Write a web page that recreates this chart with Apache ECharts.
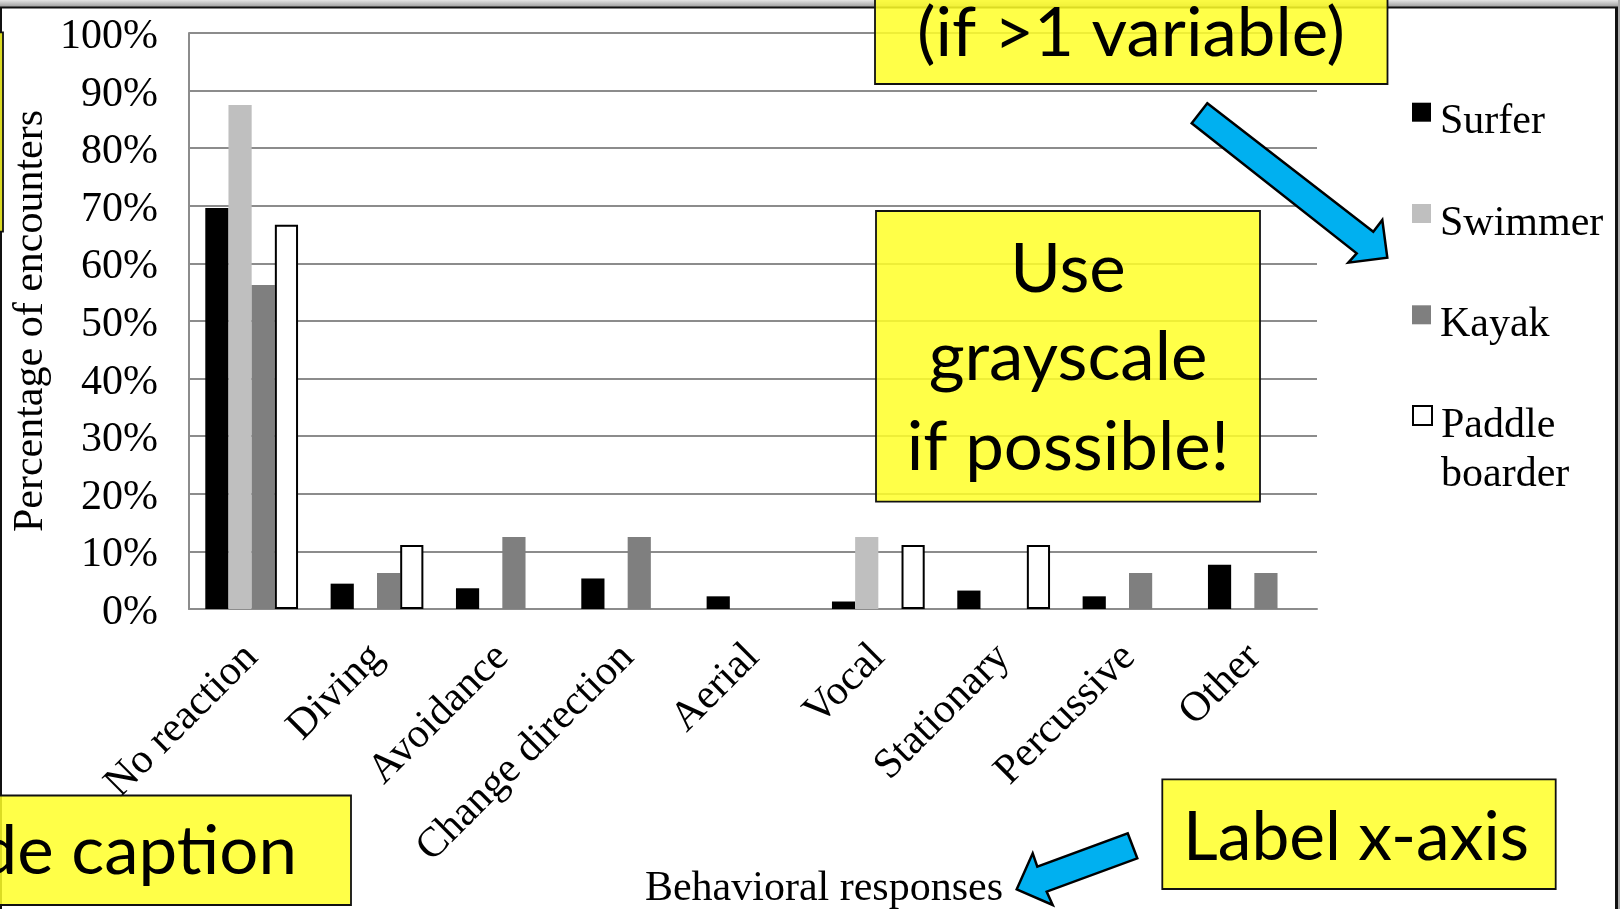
<!DOCTYPE html>
<html><head><meta charset="utf-8">
<script src="https://cdn.jsdelivr.net/npm/echarts@6/dist/echarts.min.js"></script>
<style>html,body{margin:0;padding:0;background:#fff}#c{width:1620px;height:909px}</style>
</head><body><div id="c"></div>
<script>
// ---- data ----
const categories = ['No reaction', 'Diving', 'Avoidance', 'Change direction', 'Aerial', 'Vocal', 'Stationary', 'Percussive', 'Other'];
const surfer = [69.6, 4.4, 3.6, 5.3, 2.2, 1.3, 3.2, 2.2, 7.7];
const swimmer = [87.5, 0, 0, 0, 0, 12.5, 0, 0, 0];
const kayak = [56.25, 6.25, 12.5, 12.5, 0, 0, 0, 6.25, 6.25];
const paddleBoarder = [66.7, 11.1, 0, 0, 0, 11.1, 11.1, 0, 0];
const seriesNames = ['Surfer', 'Swimmer', 'Kayak', 'Paddle boarder'];
const yTickSuffix = '%';
const xAxisTitle = 'Behavioral responses';
const yAxisTitle = 'Percentage of encounters';

const SERIF = 'Liberation Serif';
const CAL = 'Lato';
const FS = 42;
const mk = v => (v === 0 ? '-' : v);
const gridColor = '#8c8c8c';

const chart = echarts.init(document.getElementById('c'), null, {renderer: 'canvas'});
const tok = {fontFamily: SERIF, fontSize: FS, color: '#000', lineHeight: 49};
// a spacer line above each legend label pushes the text below the square icon
const legendFmt = n => {
  if (n === 'Paddle boarder') return '{f| }\n{a|Paddle}\n{a|boarder}';
  return '{e| }\n{a|' + n + '}';
};
const legendRich = {
  e: {fontSize: 8, lineHeight: 20},
  f: {fontSize: 8, lineHeight: 69},
  a: Object.assign({padding: [0, 0, 0, 4]}, tok)
};

const noteStyle = {fill: 'rgba(255,255,40,0.85)', stroke: '#111', lineWidth: 1.8};
const noteText = (text, x, y, align, sx) => ({
  type: 'text', x: x, y: y, z: 101, silent: true, scaleX: sx || 1.03,
  style: {text: text, fontFamily: CAL, fontSize: 67, fill: '#000', align: align || 'center', verticalAlign: 'middle'}
});

const option = {
  animation: false,
  backgroundColor: '#fff',
  grid: {left: 189, right: 303, top: 33, bottom: 300, containLabel: false, outerBoundsMode: 'none'},
  legend: [
    {data: seriesNames.slice(0, 3), orient: 'vertical', left: 1412, top: 77.7, padding: 0,
     itemWidth: 19, itemHeight: 19, itemGap: 32.3, icon: 'rect', selectedMode: false,
     formatter: legendFmt, textStyle: Object.assign({rich: legendRich}, tok)},
    {data: seriesNames.slice(3), orient: 'vertical', left: 1412, top: 332, padding: 0,
     itemWidth: 19, itemHeight: 19, icon: 'rect', selectedMode: false,
     formatter: legendFmt, textStyle: Object.assign({rich: legendRich}, tok)}
  ],
  xAxis: {
    type: 'category', data: categories,
    name: xAxisTitle, nameLocation: 'middle', nameGap: 259, nameMoveOverlap: false,
    nameTextStyle: {fontFamily: SERIF, fontSize: FS, color: '#000', padding: [0, 0, 0, 142]},
    axisLine: {show: true, lineStyle: {color: gridColor, width: 2}},
    axisTick: {show: false},
    axisLabel: {interval: 0, rotate: 45, margin: 42, fontFamily: SERIF, fontSize: FS, color: '#000'}
  },
  yAxis: {
    type: 'value', min: 0, max: 100, interval: 10,
    name: yAxisTitle, nameLocation: 'middle', nameGap: 137, nameMoveOverlap: false,
    nameTextStyle: {fontFamily: SERIF, fontSize: FS, color: '#000'},
    axisLine: {show: true, lineStyle: {color: gridColor, width: 2}},
    axisTick: {show: false},
    splitLine: {lineStyle: {color: gridColor, width: 2}},
    axisLabel: {
      formatter: v => '{v|' + v + yTickSuffix + '}', margin: 31,
      fontFamily: SERIF, fontSize: FS, color: '#000',
      rich: {v: {fontFamily: SERIF, fontSize: FS, color: '#000', padding: [8, 0, 0, 0]}}
    }
  },
  series: [
    {name: seriesNames[0], type: 'bar', data: surfer.map(mk), barGap: '0%', barCategoryGap: '26%',
     itemStyle: {color: '#000000'}},
    {name: seriesNames[1], type: 'bar', data: swimmer.map(mk), itemStyle: {color: '#bfbfbf'}},
    {name: seriesNames[2], type: 'bar', data: kayak.map(mk), itemStyle: {color: '#7f7f7f'}},
    {name: seriesNames[3], type: 'bar', data: paddleBoarder.map(mk),
     itemStyle: {color: '#ffffff', borderColor: '#000000', borderWidth: 2}}
  ],
  graphic: {elements: [
    // slide frame
    {type: 'rect', shape: {x: 0, y: 0, width: 1620, height: 7}, z: 50, silent: true,
     style: {fill: new echarts.graphic.LinearGradient(0, 0, 0, 1, [{offset: 0, color: '#e4e4e4'}, {offset: 1, color: '#9c9c9c'}])}},
    {type: 'line', shape: {x1: 0, y1: 7.5, x2: 1620, y2: 7.5}, z: 51, silent: true, style: {stroke: '#111', lineWidth: 2}},
    {type: 'line', shape: {x1: 1, y1: 7, x2: 1, y2: 909}, z: 51, silent: true, style: {stroke: '#111', lineWidth: 2}},
    {type: 'line', shape: {x1: 1616.5, y1: 7, x2: 1616.5, y2: 909}, z: 51, silent: true, style: {stroke: '#111', lineWidth: 3}},
    {type: 'rect', shape: {x: 1618, y: 0, width: 2, height: 909}, z: 51, silent: true, style: {fill: '#aaa'}},
    // yellow note boxes
    {type: 'rect', shape: {x: -50, y: 32.3, width: 53, height: 199.4}, z: 100, silent: true, style: noteStyle},
    {type: 'rect', shape: {x: 875, y: -30, width: 512.5, height: 114}, z: 100, silent: true, style: noteStyle},
    {type: 'rect', shape: {x: 876, y: 211, width: 384, height: 290.7}, z: 100, silent: true, style: noteStyle},
    {type: 'rect', shape: {x: 1162.3, y: 779.3, width: 393.4, height: 109.7}, z: 100, silent: true, style: noteStyle},
    {type: 'rect', shape: {x: -60, y: 795.5, width: 411, height: 109.5}, z: 100, silent: true, style: noteStyle},
    // note texts
    noteText('(if >1 variable)', 1131, 34),
    noteText('Use', 1068, 270),
    noteText('grayscale', 1068, 358),
    noteText('if possible!', 1068, 448),
    noteText('Label x-axis', 1356, 838.5, 'center', 1.01),
    noteText('Include caption', 297, 852, 'right'),
    // arrows
    {type: 'polygon', z: 102, silent: true,
     shape: {points: [[1207.3, 103.3], [1373.3, 231.7], [1382.3, 220], [1387.3, 257.7], [1348.3, 262.7], [1356.7, 253.3], [1191.7, 123.3]]},
     style: {fill: '#00b0f0', stroke: '#000', lineWidth: 2.5, lineJoin: 'miter'}},
    {type: 'polygon', z: 102, silent: true,
     shape: {points: [[1127.7, 833.3], [1137.3, 858.3], [1046.7, 891.7], [1052.7, 905], [1016.7, 889.3], [1032.7, 853.3], [1037.3, 866.7]]},
     style: {fill: '#00b0f0', stroke: '#000', lineWidth: 2.5, lineJoin: 'miter'}}
  ]}
};
chart.setOption(option);
</script>
</body></html>
